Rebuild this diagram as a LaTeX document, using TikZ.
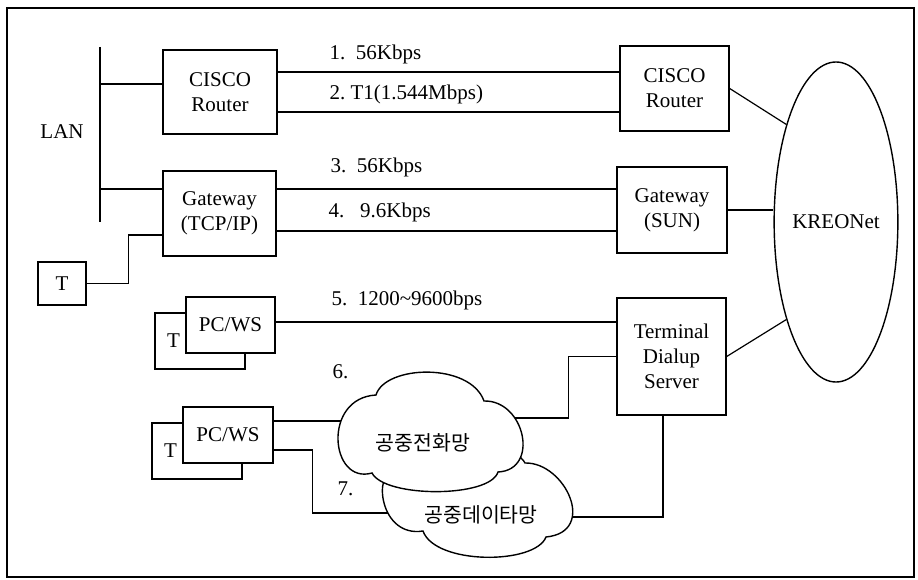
\documentclass[tikz,border=0pt]{standalone}
\usepackage{fontspec}
\setmainfont{Liberation Serif}
\newfontfamily\hangul{Noto Sans CJK KR}
\usetikzlibrary{shapes.geometric}

\begin{document}
\begin{tikzpicture}[x=1pt, y=-1pt, line width=1.2pt,
    font=\fontsize{21}{25}\selectfont,
    box/.style={draw, fill=white, align=center, inner sep=0pt, line width=1.4pt},
    backbox/.style={draw, minimum width=90pt, minimum height=56pt, inner sep=0pt,
      line width=1.4pt, text width=66pt, align=left},
    rate/.style={anchor=base west, inner sep=0pt},
    netlabel/.style={font=\hangul\fontsize{20.5}{20.5}\selectfont, inner sep=0pt},
    cloudline/.style={draw, fill=white, line width=1.4pt}]
  \useasboundingbox (0,0) rectangle (918,580);
  \draw (7,8) rectangle (914,577);
  % --- LAN and local hosts ---
  \coordinate (lanT) at (100,47);
  \coordinate (lanB) at (100,222);
  \draw[line width=2.2pt] (lanT) -- (lanB);
  \node (lan) at (62,132) {LAN};
  \node[box, minimum width=114pt, minimum height=84pt] (rtA) at (220,92) {CISCO\\Router};
  \node[box, minimum width=113pt, minimum height=85pt] (gwA) at (219.5,213.5) {Gateway\\(TCP/IP)};
  \node[box, minimum width=48pt, minimum height=43pt] (tb) at (62,283.5) {T};
  % --- remote side ---
  \node[box, minimum width=109pt, minimum height=85pt] (rtB) at (674.5,88.5) {CISCO\\Router};
  \node[box, minimum width=110pt, minimum height=86pt] (gwB) at (672,210) {Gateway\\(SUN)};
  \node[box, minimum width=109pt, minimum height=117pt] (tds) at (671.5,356.5) {Terminal\\Dialup\\Server};
  \node[draw, ellipse, minimum width=118pt, minimum height=320pt, inner sep=0pt,
    line width=1.4pt] (kreo) at (836,222) {KREONet};
  % --- terminals ---
  \node[backbox] (tA) at (200,341) {T};
  \node[box, minimum width=89pt, minimum height=56pt] (pc1) at ([shift={(30.5,-16)}]tA.center) {PC/WS};
  \node[backbox] (tB) at (197,451) {T};
  \node[box, minimum width=90pt, minimum height=56pt] (pc2) at ([shift={(31,-16)}]tB.center) {PC/WS};
  % --- LAN branches ---
  \draw ([yshift=8pt]rtA.west) -- ([yshift=8pt]rtA.west -| lanT);
  \draw ([yshift=24.5pt]gwA.west) -- ([yshift=24.5pt]gwA.west -| lanT);
  \draw (tb.east) -- ++(42,0) |- ([yshift=-21.5pt]gwA.west);
  % --- lines 1 to 5 ---
  \draw ([yshift=20pt]rtA.east) -- ([yshift=20pt]rtA.east -| rtB.west);
  \draw ([yshift=-20pt]rtA.east) -- ([yshift=-20pt]rtA.east -| rtB.west);
  \draw ([yshift=24.5pt]gwA.east) -- ([yshift=24.5pt]gwA.east -| gwB.west);
  \draw ([yshift=-17.5pt]gwA.east) -- ([yshift=-17.5pt]gwA.east -| gwB.west);
  \draw ([yshift=3pt]pc1.east) -- ([yshift=3pt]pc1.east -| tds.west);
  \node[rate] (r1) at (329,60) {1.\ \ 56Kbps};
  \node[rate] (r2) at (329,100) {2.\ T1(1.544Mbps)};
  \node[rate] (r3) at (330,173) {3.\ \ 56Kbps};
  \node[rate] (r4) at (328,218) {4.\ \ \ 9.6Kbps};
  \node[rate] (r5) at (331,305) {5.\ \ 1200\textasciitilde9600bps};
  \node[rate] (r6) at (332,378) {6.};
  \node[rate] (r7) at (337,495) {7.};
  % --- links to KREONet ---
  \draw (rtB.east) -- (kreo.117);
  \draw (gwB.east) -- (gwB.east -| kreo.west);
  \draw (tds.east) -- (kreo.243);
  % --- dial-up paths ---
  \coordinate (pstnW) at (345,421);
  \coordinate (pstnE) at (510,418);
  \coordinate (pdnW) at (395,513);
  \coordinate (pdnE) at (565,517);
  \draw ([yshift=14pt]pc2.east) -- (pstnW);
  \draw ([yshift=-15pt]pc2.east) -- ++(39,0) |- (pdnW);
  \draw (pstnE) -| ([xshift=-48pt]tds.west) -- (tds.west);
  \draw (pdnE) -| ([xshift=-8.5pt]tds.south);
  % --- the two clouds ---
  \path[cloudline] (423,531) .. controls (380,538) and (372,472) .. (395,470)
    .. controls (405,440) and (510,435) .. (525,463)
    .. controls (565,462) and (598,532) .. (546,537)
    .. controls (535,565) and (435,565) .. cycle;
  \path[cloudline] (372,473) .. controls (330,485) and (322,398) .. (376,395)
    .. controls (385,365) and (470,362) .. (484,401)
    .. controls (525,400) and (540,470) .. (498,472)
    .. controls (490,498) and (385,498) .. cycle;
  \node[netlabel] (pstn) at (423,443) {공중전화망};
  \node[netlabel] (pdn) at (481,515) {공중데이타망};
\end{tikzpicture}
\end{document}
